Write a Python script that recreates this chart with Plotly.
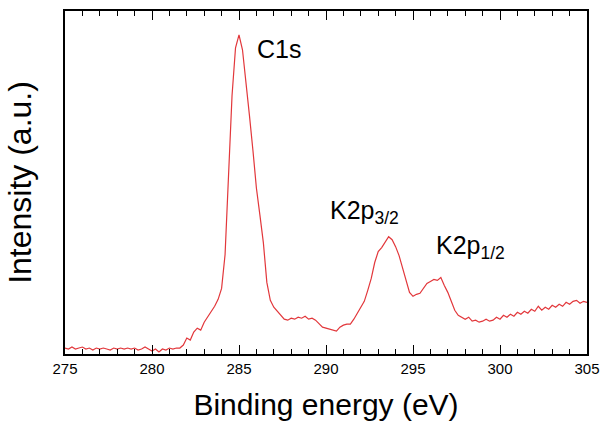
import numpy as np
import plotly.graph_objects as go

intensity = [
    6, 5, 7, 5, 6, 7, 5, 6, 4, 6,          # 275.0-276.8
    5, 6, 5, 4, 6, 5, 6, 5, 6, 5,          # 277.0-278.8
    6, 4, 5, 7, 5, 3, 5, 2, 5, 4,          # 279.0-280.8
    6, 5, 6, 6, 9, 16, 14, 22, 26, 24,     # 281.0-282.8
    32, 37, 42, 48, 55, 66, 100, 175, 260, 308,   # 283.0-284.8
    321, 306, 275, 240, 205, 167, 140, 112, 72, 54,  # 285.0-286.8
    47, 43, 39, 35, 34, 36, 35, 37, 36, 38,  # 287.0-288.8
    35, 36, 34, 30, 27, 26, 25, 24, 23, 27,  # 289.0-290.8
    29, 30, 30, 35, 41, 47, 53, 64, 76, 92,  # 291.0-292.8
    103, 107, 112, 118, 115, 108, 99, 86, 73, 62,  # 293.0-294.8
    58, 60, 61, 66, 71, 73, 75, 74, 77, 69,  # 295.0-296.8
    62, 53, 44, 39, 37, 35, 37, 33, 34, 32,  # 297.0-298.8
    33, 35, 33, 34, 37, 35, 39, 37, 40, 38,  # 299.0-300.8
    42, 40, 43, 41, 45, 43, 48, 44, 47, 45,  # 301.0-302.8
    49, 47, 50, 48, 52, 50, 53, 54, 51, 53,  # 303.0-304.8
    52,                                      # 305.0
]
energy = np.linspace(275, 305, len(intensity))

tick_vals = [275, 280, 285, 290, 295, 300, 305]
tick_text = ["275", "280", "285", "290", "295", "300", "305"]

peak_labels = ["C1s", "K2p<sub>3/2</sub>", "K2p<sub>1/2</sub>"]
peak_x = [285.9, 290.1, 296.2]
peak_y = [307, 143, 108]

fig = go.Figure()
fig.add_trace(go.Scatter(x=energy, y=intensity, mode="lines",
                         line=dict(color="#e2373b", width=1.2),
                         showlegend=False, hoverinfo="skip"))

for t, x, y in zip(peak_labels, peak_x, peak_y):
    fig.add_annotation(x=x, y=y, text=t, showarrow=False, xanchor="left",
                       yanchor="middle",
                       font=dict(family="Liberation Sans, Arial", size=25, color="black"))

fig.update_layout(
    width=609, height=435,
    margin=dict(l=65, r=13, t=9, b=81),
    paper_bgcolor="white", plot_bgcolor="white",
    font=dict(family="Liberation Sans, Arial", color="black"),
)
fig.update_xaxes(
    range=[275, 305], tickvals=tick_vals, ticktext=tick_text,
    ticks="inside", ticklen=9, tickwidth=1.3, tickcolor="black",
    minor=dict(dtick=1, ticks="inside", ticklen=5, tickwidth=1.1, tickcolor="black"),
    showline=True, linecolor="black", linewidth=1.5, mirror="ticks",
    showgrid=False, zeroline=False,
    tickfont=dict(size=15, family="Liberation Sans, Arial"),
    title=dict(text="Binding energy (eV)", font=dict(size=30), standoff=18),
)
fig.update_yaxes(
    range=[0, 345], showticklabels=False, ticks="",
    showline=True, linecolor="black", linewidth=1.5, mirror=True,
    showgrid=False, zeroline=False,
    title=dict(text="Intensity (a.u.)", font=dict(size=32), standoff=22),
)

fig.write_html("out.html")
